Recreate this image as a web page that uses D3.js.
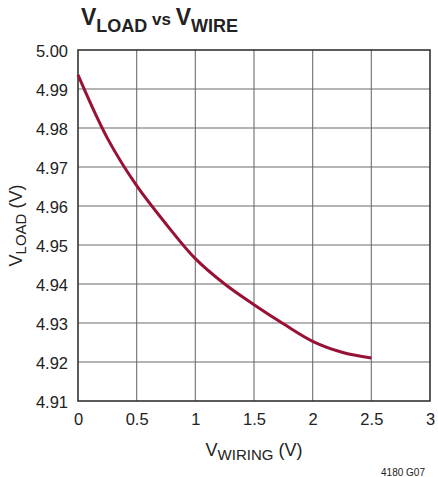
<!DOCTYPE html>
<html>
<head>
<meta charset="utf-8">
<script src="https://cdn.jsdelivr.net/npm/d3@7"></script>
<style>
  html, body { margin: 0; padding: 0; background: #fff; }
  svg text { font-family: "Liberation Sans", Arial, sans-serif; fill: #222; }
</style>
</head>
<body>
<div id="chart"></div>
<script>
// values
const vWiring = [0, 0.25, 0.5, 0.75, 1.0, 1.25, 1.5, 1.75, 2.0, 2.25, 2.5];
const vLoad = [4.9936, 4.9774, 4.9652, 4.9554, 4.9465, 4.9400, 4.9347, 4.9298, 4.9253, 4.9225, 4.9210];
const xTickVals = [0, 0.5, 1, 1.5, 2, 2.5, 3];
const xTickLabels = ['0', '0.5', '1', '1.5', '2', '2.5', '3'];
const yTickVals = [4.91, 4.92, 4.93, 4.94, 4.95, 4.96, 4.97, 4.98, 4.99, 5.00];
const yTickLabels = ['4.91', '4.92', '4.93', '4.94', '4.95', '4.96', '4.97', '4.98', '4.99', '5.00'];

const W = 438, H = 477;
const margin = { top: 50, right: 8, bottom: 76, left: 78 };
const width = W - margin.left - margin.right;
const height = H - margin.top - margin.bottom;

const svg = d3.select('#chart').append('svg')
  .attr('width', W)
  .attr('height', H);

const x = d3.scaleLinear().domain([0, 3]).range([0, width]);
const y = d3.scaleLinear().domain([4.91, 5.00]).range([height, 0]);

const g = svg.append('g')
  .attr('transform', `translate(${margin.left}, ${margin.top})`);

// grid
g.append('g')
  .attr('class', 'grid-x')
  .selectAll('line')
  .data(xTickVals.slice(1, -1))
  .enter().append('line')
  .attr('x1', d => x(d)).attr('x2', d => x(d))
  .attr('y1', 0).attr('y2', height)
  .attr('stroke', '#7a7a7a')
  .attr('stroke-width', 1.2);

g.append('g')
  .attr('class', 'grid-y')
  .selectAll('line')
  .data(yTickVals.slice(1, -1))
  .enter().append('line')
  .attr('x1', 0).attr('x2', width)
  .attr('y1', d => y(d)).attr('y2', d => y(d))
  .attr('stroke', '#6a6a6a')
  .attr('stroke-width', 1.2);

// frame
g.append('rect')
  .attr('x', 0).attr('y', 0)
  .attr('width', width).attr('height', height)
  .attr('fill', 'none')
  .attr('stroke', '#333')
  .attr('stroke-width', 1.6);

// axes (labels only, the frame is the domain line)
const xAxis = d3.axisBottom(x)
  .tickValues(xTickVals)
  .tickFormat((d, i) => xTickLabels[i])
  .tickSize(0)
  .tickPadding(12);

const yAxis = d3.axisLeft(y)
  .tickValues(yTickVals)
  .tickFormat((d, i) => yTickLabels[i])
  .tickSize(0)
  .tickPadding(10);

const gx = g.append('g')
  .attr('class', 'x-axis')
  .attr('transform', `translate(0, ${height})`)
  .call(xAxis);

const gy = g.append('g')
  .attr('class', 'y-axis')
  .call(yAxis);

[gx, gy].forEach(a => {
  a.select('.domain').remove();
  a.selectAll('text')
    .style('font-family', '"Liberation Sans", Arial, sans-serif')
    .style('font-size', '16.5px')
    .style('fill', '#222');
});
gy.selectAll('text').attr('dy', '0.4em');

// curve
const line = d3.line()
  .x((d, i) => x(vWiring[i]))
  .y(d => y(d))
  .curve(d3.curveCatmullRom.alpha(0.5));

g.append('path')
  .datum(vLoad)
  .attr('d', line)
  .attr('fill', 'none')
  .attr('stroke', '#981235')
  .attr('stroke-width', 3)
  .attr('stroke-linecap', 'butt');

// title
const title = svg.append('text')
  .attr('x', 81)
  .attr('y', 25)
  .style('font-family', '"Liberation Sans Narrow", "Liberation Sans", Arial, sans-serif')
  .style('font-weight', 'bold')
  .style('fill', '#222');
title.append('tspan').style('font-size', '23px').text('V');
title.append('tspan').style('font-size', '18px').attr('dy', 7).text('LOAD');
title.append('tspan').style('font-size', '17px').attr('dy', -7).text(' vs ');
title.append('tspan').style('font-size', '23px').text('V');
title.append('tspan').style('font-size', '18px').attr('dy', 7).text('WIRE');

// x label
const xl = svg.append('text')
  .attr('x', margin.left + width / 2)
  .attr('y', 456)
  .attr('text-anchor', 'middle')
  .style('font-size', '18px');
xl.append('tspan').text('V');
xl.append('tspan').style('font-size', '15px').attr('dy', 4).text('WIRING');
xl.append('tspan').attr('dy', -4).text(' (V)');

// y label
const yl = svg.append('text')
  .attr('transform', `translate(22, ${margin.top + height / 2}) rotate(-90)`)
  .attr('text-anchor', 'middle')
  .style('font-size', '18px');
yl.append('tspan').text('V');
yl.append('tspan').style('font-size', '15px').attr('dy', 4).text('LOAD');
yl.append('tspan').attr('dy', -4).text(' (V)');

// figure id
svg.append('text')
  .attr('x', 425)
  .attr('y', 476)
  .attr('text-anchor', 'end')
  .style('font-family', '"Liberation Sans Narrow", "Liberation Sans", Arial, sans-serif')
  .style('font-size', '10px')
  .text('4180 G07');
</script>
</body>
</html>
